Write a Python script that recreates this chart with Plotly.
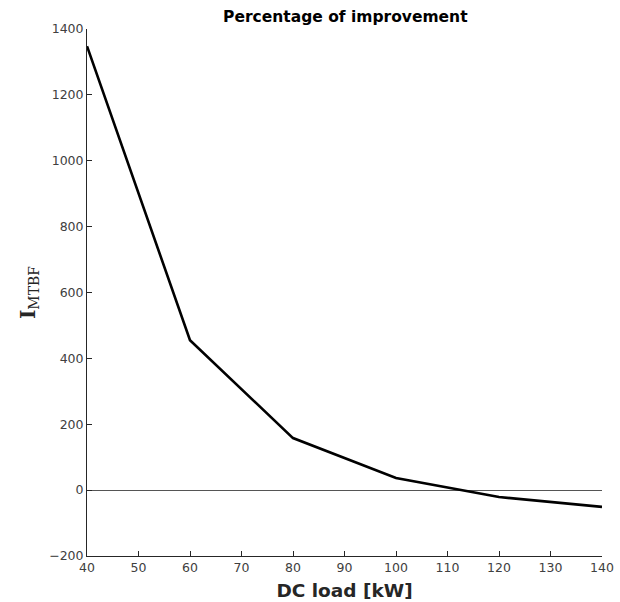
import plotly.graph_objects as go

load_kw = [40, 60, 80, 100, 120, 140]
improvement = [1348, 455, 158, 37, -21, -51]

x_ticks = [40, 50, 60, 70, 80, 90, 100, 110, 120, 130, 140]
y_ticks = [-200, 0, 200, 400, 600, 800, 1000, 1200, 1400]

fig = go.Figure()
fig.add_trace(go.Scatter(x=load_kw, y=improvement, mode="lines",
                         line=dict(color="black", width=2.6), showlegend=False))

fig.update_layout(
    width=620, height=602,
    margin=dict(l=87, r=18, t=29, b=46),
    plot_bgcolor="white", paper_bgcolor="white",
    font=dict(family="DejaVu Sans", size=12.5, color="#404040"),
    title=dict(text="<b>Percentage of improvement</b>", x=0.557, xanchor="center",
               y=0.973, yanchor="middle",
               font=dict(family="DejaVu Sans", size=15.5, color="black")),
    xaxis=dict(range=[40, 140], tickvals=x_ticks, ticks="inside", ticklen=5,
               tickcolor="#262626", showline=True, linecolor="#262626", linewidth=1,
               showgrid=False, zeroline=False, automargin=False,
               title=dict(text="<b>DC load [kW]</b>", standoff=10,
                          font=dict(family="DejaVu Sans", size=18.5, color="#262626"))),
    yaxis=dict(range=[-200, 1400], tickvals=y_ticks, ticks="inside", ticklen=5,
               tickcolor="#262626", showline=True, linecolor="#262626", linewidth=1,
               showgrid=False, zeroline=True, zerolinecolor="#555555", zerolinewidth=1,
               automargin=False,
               title=dict(text="<b>I</b><sub>MTBF</sub>", standoff=8,
                          font=dict(family="DejaVu Serif", size=20, color="#262626"))),
)

fig.write_html("out.html")
